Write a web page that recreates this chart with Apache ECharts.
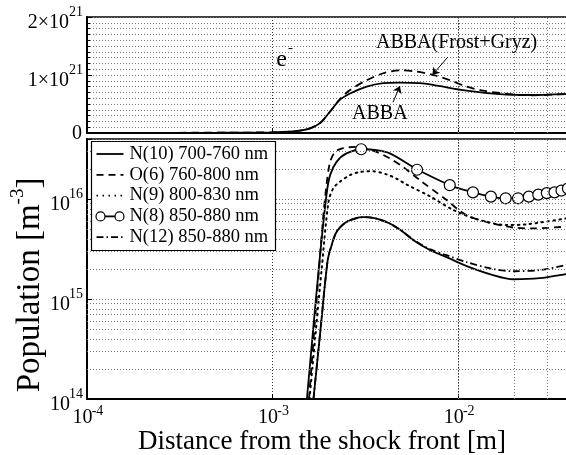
<!DOCTYPE html>
<html>
<head>
<meta charset="utf-8">
<script src="https://cdn.jsdelivr.net/npm/echarts@6/dist/echarts.min.js"></script>
<style>
  html, body { margin: 0; padding: 0; background: #fff; }
  #chart { width: 566px; height: 455px; }
</style>
</head>
<body>
<div id="chart"></div>
<script>
const FONT = 'Liberation Serif';

// top panel: electron density e- [m^-3], [distance m, value]
const abba = [
  [1e-4, 3e18], [5e-4, 5e18], [1e-3, 1.2e19], [1.24e-3, 2.2e19], [1.4e-3, 4e19],
  [1.59e-3, 8e19], [1.8e-3, 1.7e20], [2.04e-3, 3.7e20], [2.3e-3, 5.7e20],
  [2.61e-3, 6.8e20], [3.21e-3, 8.0e20], [3.94e-3, 8.6e20], [4.85e-3, 8.7e20],
  [6.21e-3, 8.6e20], [7.3e-3, 8.3e20], [1.11e-2, 7.3e20], [1.67e-2, 6.7e20],
  [2.52e-2, 6.55e20], [3.8e-2, 6.7e20], [4e-2, 6.7e20]
];
const abbaFrostGryz = [
  [1e-4, 3e18], [5e-4, 5e18], [1e-3, 1.2e19], [1.24e-3, 2.2e19], [1.4e-3, 4e19],
  [1.59e-3, 8e19], [1.8e-3, 1.7e20], [2.04e-3, 3.7e20], [2.3e-3, 5.8e20],
  [2.61e-3, 7.4e20], [3.21e-3, 9.1e20], [3.94e-3, 1.03e21], [4.85e-3, 1.08e21],
  [5.96e-3, 1.06e21], [7.33e-3, 1.0e21], [9.01e-3, 9.1e20], [1.11e-2, 8.0e20],
  [1.36e-2, 7.3e20], [1.67e-2, 6.9e20], [2.06e-2, 6.6e20], [2.52e-2, 6.5e20],
  [3.8e-2, 6.7e20], [4e-2, 6.7e20]
];

// bottom panel: populations [m^-3]
const n10 = [
  [1.66e-3, 1e14], [1.81e-3, 4.9e14], [1.98e-3, 2.45e15], [2.08e-3, 3.47e15],
  [2.21e-3, 4.7e15], [2.5e-3, 5.9e15], [3.07e-3, 6.6e15], [3.63e-3, 6.4e15],
  [4.28e-3, 5.7e15], [5.05e-3, 4.7e15], [5.71e-3, 3.9e15], [7.03e-3, 3.1e15],
  [8.65e-3, 2.63e15], [1.11e-2, 2.14e15], [1.54e-2, 1.74e15], [1.98e-2, 1.58e15],
  [2.75e-2, 1.62e15], [3.8e-2, 1.78e15], [4e-2, 1.82e15]
];
const o6 = [
  [1.57e-3, 1e14], [1.78e-3, 2.05e15], [1.87e-3, 6.4e15], [1.95e-3, 1.38e16],
  [2.04e-3, 2.36e16], [2.17e-3, 2.97e16], [2.4e-3, 3.25e16], [2.83e-3, 3.33e16],
  [3.21e-3, 3.2e16], [3.63e-3, 2.97e16], [4.28e-3, 2.56e16], [5.05e-3, 2.1e16],
  [6.21e-3, 1.55e16], [8.65e-3, 9.8e15], [1.11e-2, 6.9e15], [1.54e-2, 5.7e15],
  [1.98e-2, 5.2e15], [2.53e-2, 5.1e15], [3.8e-2, 5.3e15], [4e-2, 5.35e15]
];
const n9 = [
  [1.58e-3, 1e14], [1.84e-3, 2.05e15], [2.0e-3, 9.4e15], [2.12e-3, 1.28e16],
  [2.3e-3, 1.49e16], [2.61e-3, 1.74e16], [2.95e-3, 1.87e16], [3.48e-3, 1.9e16],
  [4.11e-3, 1.77e16], [4.66e-3, 1.6e16], [5.27e-3, 1.4e16], [7.03e-3, 1.07e16],
  [9.4e-3, 7.8e15], [1.26e-2, 6.3e15], [1.82e-2, 5.5e15], [2.33e-2, 5.6e15],
  [3.8e-2, 6.4e15], [4e-2, 6.5e15]
];
const n8 = [
  [1.53e-3, 1e14], [1.78e-3, 2.2e15], [1.95e-3, 1.1e16], [2.04e-3, 1.74e16],
  [2.21e-3, 2.36e16], [2.5e-3, 2.87e16], [3.07e-3, 3.16e16], [3.63e-3, 3.09e16],
  [4.28e-3, 2.87e16], [5.48e-3, 2.2e16], [6.1e-3, 1.95e16], [9.2e-3, 1.36e16],
  [1.23e-2, 1.16e16], [1.53e-2, 1.05e16], [1.85e-2, 1.02e16], [2.15e-2, 1.02e16],
  [2.46e-2, 1.07e16], [2.75e-2, 1.12e16], [3.03e-2, 1.15e16], [3.35e-2, 1.17e16],
  [3.66e-2, 1.23e16], [4e-2, 1.29e16]
];
const n8Markers = [
  [3e-3, 3.16e16], [6e-3, 1.97e16], [9e-3, 1.38e16], [1.2e-2, 1.17e16],
  [1.5e-2, 1.06e16], [1.8e-2, 1.02e16], [2.1e-2, 1.02e16], [2.4e-2, 1.06e16],
  [2.7e-2, 1.11e16], [3.0e-2, 1.15e16], [3.3e-2, 1.17e16], [3.6e-2, 1.22e16],
  [3.9e-2, 1.28e16]
];
const n12 = [
  [1.66e-3, 1e14], [1.81e-3, 4.9e14], [1.98e-3, 2.45e15], [2.08e-3, 3.47e15],
  [2.21e-3, 4.7e15], [2.5e-3, 5.9e15], [3.07e-3, 6.6e15], [3.63e-3, 6.4e15],
  [4.28e-3, 5.7e15], [5.05e-3, 4.7e15], [5.71e-3, 3.95e15], [7.03e-3, 3.16e15],
  [8.65e-3, 2.75e15], [1.11e-2, 2.34e15], [1.54e-2, 2.0e15], [1.98e-2, 1.9e15],
  [2.75e-2, 1.95e15], [3.8e-2, 2.19e15], [4e-2, 2.24e15]
];

const legendNames = ['N(10) 700-760 nm', 'O(6) 760-800 nm', 'N(9) 800-830 nm', 'N(8) 850-880 nm', 'N(12) 850-880 nm'];
const legendDash = ['solid', [7, 5], [1.5, 4.5], 'solid', [7, 3, 1.5, 3]];

// annotations, in data units of the top panel
const eLabelAt = [1.16e-3, 1.27e21];
const frostLabelAt = [9.8e-3, 1.55e21];
const abbaLabelAt = [3.78e-3, 0.33e21];
const frostArrow = [[8.79e-3, 1.31e21], [7.25e-3, 1.0e21]];
const abbaArrow = [[4.45e-3, 0.53e21], [4.85e-3, 0.81e21]];

const X_MIN = 1e-4, X_MAX = 4e-2;
const Y_MIN = 1e14, Y_MAX = 4e16;
const TOP_MAX = 2e21, TOP_STEP = 1e21;

// dotted minor grid lines for the log axes (2..9 x decade)
const xMinor = [];
for (const d of [-4, -3, -2]) for (let k = 2; k <= 9; k++) {
  const v = k * Math.pow(10, d);
  if (v < X_MAX) xMinor.push(v);
}
const yMinor = [];
for (const d of [14, 15, 16]) for (let k = 2; k <= 9; k++) {
  const v = k * Math.pow(10, d);
  if (v < Y_MAX) yMinor.push(v);
}

const gridLineStyle = { color: '#777', type: [1, 2], width: 1 };
const baseText = { fontFamily: FONT, fontSize: 20, color: '#000' };
const supText = { fontFamily: FONT, fontSize: 14, color: '#000' };

const decade = v => {
  const e = Math.round(Math.log10(v));
  return Math.abs(Math.log10(v) - e) < 1e-6 ? e : null;
};

const TOP_RECT = { left: 87, top: 17, width: 483, height: 116 };
const BOTTOM_RECT = { left: 87, top: 139, width: 483, height: 260 };
const mkGrid = (rect, extra) => Object.assign({ outerBoundsMode: 'none', containLabel: false }, rect, extra || {});

const hiddenX = gridIndex => ({ type: 'value', gridIndex, min: 0, max: 1, show: false });
const labelsOnly = {
  axisLine: { show: false }, axisTick: { show: false },
  splitLine: { show: false }, minorTick: { show: false }, minorSplitLine: { show: false }
};

const gridMarks = (xs, ys) => ({
  silent: true,
  symbol: 'none',
  animation: false,
  label: { show: false },
  lineStyle: gridLineStyle,
  emphasis: { disabled: true },
  data: xs.map(v => ({ xAxis: v })).concat(ys.map(v => ({ yAxis: v })))
});

const lineSeries = (name, data, dash, extra) => Object.assign({
  name, type: 'line', data, symbol: 'none', smooth: 0.3,
  xAxisIndex: 1, yAxisIndex: 1,
  lineStyle: { color: '#000', width: 1.8, type: dash },
  z: 3
}, extra || {});

const option = {
  animation: false,
  backgroundColor: '#fff',
  grid: [
    mkGrid(TOP_RECT, { show: true, borderColor: '#000', borderWidth: 1.5 }),
    mkGrid(BOTTOM_RECT, { show: true, borderColor: '#000', borderWidth: 1.5 }),
    mkGrid(TOP_RECT),      // exponent labels, top panel
    mkGrid(BOTTOM_RECT),   // exponent labels, bottom panel
    mkGrid(TOP_RECT)       // the "0" of the top panel
  ],
  xAxis: [
    {
      type: 'log', gridIndex: 0, min: X_MIN, max: X_MAX,
      axisLine: { lineStyle: { color: '#000', width: 2 } },
      axisTick: { inside: true, length: 5, lineStyle: { color: '#000' } },
      axisLabel: { show: false },
      splitLine: { show: true, lineStyle: { color: '#333', type: [1, 2] } }
    },
    {
      type: 'log', gridIndex: 1, min: X_MIN, max: X_MAX,
      axisLine: { lineStyle: { color: '#000', width: 2 } },
      axisTick: { inside: true, length: 5, lineStyle: { color: '#000' } },
      axisLabel: Object.assign({
        margin: 9, padding: [0, 9, 0, 0], verticalAlign: 'top', lineHeight: 20,
        formatter: v => (decade(v) === null || v >= X_MAX) ? '' : '10'
      }, baseText),
      splitLine: { show: true, lineStyle: { color: '#333', type: [1, 2] } },
      name: 'Distance from the shock front [m]',
      nameLocation: 'middle', nameGap: 29, nameMoveOverlap: false,
      nameTextStyle: { fontFamily: FONT, fontSize: 27, color: '#000', padding: [0, 13, 0, 0] }
    },
    hiddenX(2),
    Object.assign({
      type: 'log', gridIndex: 3, min: X_MIN, max: X_MAX, position: 'bottom',
      axisLabel: Object.assign({
        margin: 5, padding: [0, 0, 0, 21], verticalAlign: 'top', lineHeight: 14,
        formatter: v => (decade(v) === null || v >= X_MAX) ? '' : String(decade(v))
      }, supText)
    }, labelsOnly),
    hiddenX(4)
  ],
  yAxis: [
    {
      type: 'value', gridIndex: 0, min: 0, max: TOP_MAX, interval: TOP_STEP,
      axisLine: { show: true, lineStyle: { color: '#000', width: 2 } },
      axisTick: { show: true, inside: true, length: 5, lineStyle: { color: '#000' } },
      minorTick: { show: true, splitNumber: 10, length: 3, lineStyle: { color: '#000' } },
      axisLabel: Object.assign({
        margin: 18, verticalAlign: 'top', lineHeight: 11,
        formatter: v => v === 0 ? '' : Math.round(v / TOP_STEP) + '×10'
      }, baseText),
      splitLine: { show: true, lineStyle: gridLineStyle },
      minorSplitLine: { show: true, lineStyle: gridLineStyle }
    },
    {
      type: 'log', gridIndex: 1, min: Y_MIN, max: Y_MAX,
      axisLine: { show: true, lineStyle: { color: '#000', width: 2 } },
      axisTick: { show: true, inside: true, length: 5, lineStyle: { color: '#000' } },
      axisLabel: Object.assign({
        margin: 17, verticalAlign: 'top', lineHeight: 11,
        formatter: v => decade(v) === null ? '' : '10'
      }, baseText),
      splitLine: { show: true, lineStyle: gridLineStyle }
    },
    Object.assign({
      type: 'value', gridIndex: 2, min: 0, max: TOP_MAX, interval: TOP_STEP, position: 'left',
      axisLabel: Object.assign({
        margin: 4, verticalAlign: 'bottom', lineHeight: 10,
        formatter: v => v === 0 ? '' : String(Math.round(Math.log10(TOP_STEP)))
      }, supText)
    }, labelsOnly),
    Object.assign({
      type: 'log', gridIndex: 3, min: Y_MIN, max: Y_MAX, position: 'left',
      axisLabel: Object.assign({
        margin: 4, verticalAlign: 'bottom', lineHeight: 10,
        formatter: v => decade(v) === null ? '' : String(decade(v))
      }, supText)
    }, labelsOnly),
    Object.assign({
      type: 'value', gridIndex: 4, min: 0, max: TOP_MAX, interval: TOP_STEP, position: 'left',
      axisLabel: Object.assign({
        margin: 5, verticalAlign: 'top', lineHeight: 2,
        formatter: v => v === 0 ? '0' : ''
      }, baseText)
    }, labelsOnly)
  ],
  series: [
    {
      name: 'ABBA', type: 'line', data: abba, symbol: 'none', smooth: 0.3,
      xAxisIndex: 0, yAxisIndex: 0, z: 3,
      lineStyle: { color: '#000', width: 1.8 },
      markLine: gridMarks(xMinor, [])
    },
    {
      name: 'ABBA(Frost+Gryz)', type: 'line', data: abbaFrostGryz, symbol: 'none', smooth: 0.3,
      xAxisIndex: 0, yAxisIndex: 0, z: 3,
      lineStyle: { color: '#000', width: 1.8, type: [8, 5] },
      markLine: {
        silent: true, animation: false, symbol: ['none', 'arrow'], symbolSize: 7,
        label: { show: false },
        lineStyle: { color: '#000', width: 1, type: 'solid' },
        data: [
          [{ coord: frostArrow[0] }, { coord: frostArrow[1] }],
          [{ coord: abbaArrow[0] }, { coord: abbaArrow[1] }]
        ]
      }
    },
    lineSeries(legendNames[0], n10, legendDash[0], { markLine: gridMarks(xMinor, yMinor) }),
    lineSeries(legendNames[1], o6, legendDash[1]),
    lineSeries(legendNames[2], n9, legendDash[2], { lineStyle: { color: '#000', width: 2, type: legendDash[2], cap: 'round' } }),
    lineSeries(legendNames[3], n8, legendDash[3]),
    {
      name: 'N(8) markers', type: 'scatter', data: n8Markers,
      xAxisIndex: 1, yAxisIndex: 1, z: 4,
      symbol: 'circle', symbolSize: 11,
      itemStyle: { color: '#fff', borderColor: '#000', borderWidth: 1.2, opacity: 1 }
    },
    lineSeries(legendNames[4], n12, legendDash[4])
  ]
};

const chart = echarts.init(document.getElementById('chart'));
chart.setOption(option);

// legend box and annotation texts
const toPx = p => chart.convertToPixel({ gridIndex: 0 }, p);
const graphics = [];
const LX = 91.5, LY = 141.5, ROW = 20.8;
graphics.push({
  type: 'rect', z: 100,
  shape: { x: LX, y: LY, width: 184, height: 109 },
  style: { fill: '#fff', stroke: '#000', lineWidth: 1.2 }
});
legendNames.forEach((name, i) => {
  const y = LY + 12.5 + i * ROW;
  graphics.push({
    type: 'line', z: 101,
    shape: { x1: LX + 5, y1: y, x2: LX + 32, y2: y },
    style: { stroke: '#000', lineWidth: 1.8, lineDash: legendDash[i] === 'solid' ? null : legendDash[i] }
  });
  if (i === 3) {
    [LX + 9, LX + 28].forEach(cx => graphics.push({
      type: 'circle', z: 102,
      shape: { cx, cy: y, r: 4.5 },
      style: { fill: '#fff', stroke: '#000', lineWidth: 1.2 }
    }));
  }
  graphics.push({
    type: 'text', z: 101, x: LX + 38, y,
    style: { text: name, font: '18.5px "' + FONT + '"', fill: '#000', verticalAlign: 'middle' }
  });
});

const [ex, ey] = toPx(eLabelAt);
graphics.push({
  type: 'text', z: 101, x: ex - 3, y: ey,
  style: { text: 'e', font: '24px "' + FONT + '"', fill: '#000', align: 'center', verticalAlign: 'middle' }
});
graphics.push({
  type: 'text', z: 101, x: ex + 6, y: ey - 11,
  style: { text: '-', font: '15px "' + FONT + '"', fill: '#000', align: 'center', verticalAlign: 'middle' }
});
[[frostLabelAt, 'ABBA(Frost+Gryz)'], [abbaLabelAt, 'ABBA']].forEach(([p, t]) => {
  const [x, y] = toPx(p);
  graphics.push({
    type: 'text', z: 101, x, y,
    style: { text: t, font: '20px "' + FONT + '"', fill: '#000', align: 'center', verticalAlign: 'middle' }
  });
});

// y axis title
graphics.push({
  type: 'text', z: 101, x: 28, y: 285, rotation: Math.PI / 2,
  style: {
    text: '{t|Population [m}{s|-3}{t|]}', align: 'center', verticalAlign: 'middle',
    rich: {
      t: { fontFamily: FONT, fontSize: 33, lineHeight: 38, verticalAlign: 'bottom', fill: '#000' },
      s: { fontFamily: FONT, fontSize: 19, lineHeight: 20, verticalAlign: 'top', fill: '#000' }
    }
  }
});

chart.setOption({ graphic: graphics });
</script>
</body>
</html>
